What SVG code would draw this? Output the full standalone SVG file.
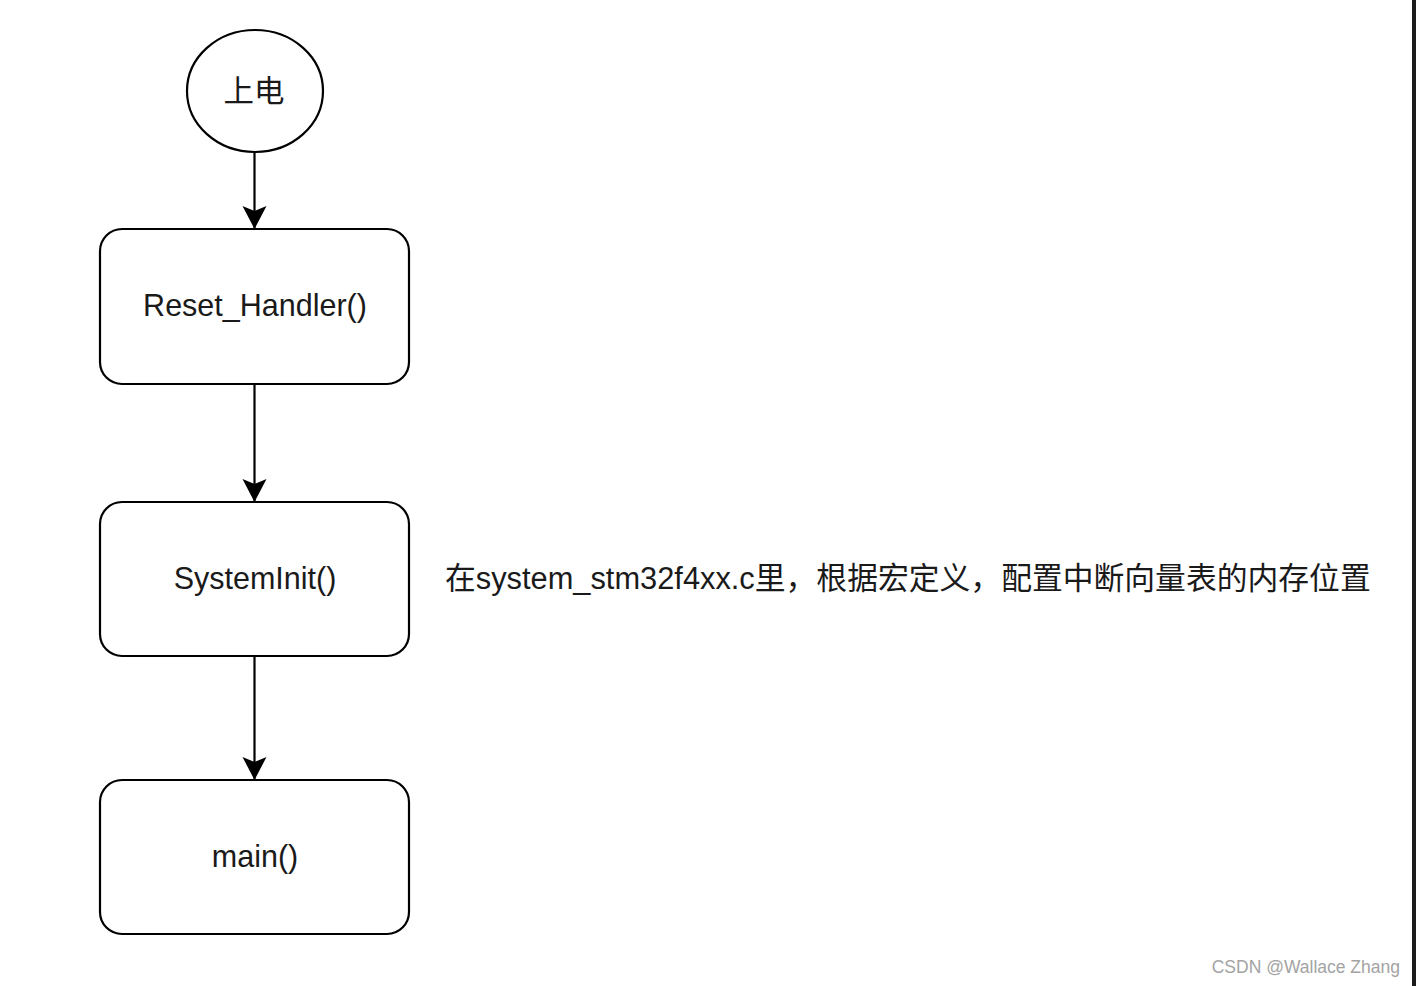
<svg xmlns="http://www.w3.org/2000/svg" width="1416" height="986" viewBox="0 0 1416 986">
  <style>
    .node { fill: #ffffff; stroke: #000000; stroke-width: 2.2; }
    .edge { fill: none; stroke: #000000; stroke-width: 2.2; }
    .label { font-family: "Liberation Sans", Arial, "Noto Sans CJK SC", sans-serif; font-size: 30.5px; fill: #1a1a1a; text-anchor: middle; }
    .note { font-family: "Liberation Sans", Arial, "Noto Sans CJK SC", sans-serif; font-size: 30.8px; fill: #1a1a1a; }
    .wm { font-family: "Liberation Sans", Arial, sans-serif; font-size: 17.5px; fill: #a3a3a3; text-anchor: end; }
  </style>
  <defs>
    <marker id="arrow" markerUnits="userSpaceOnUse" viewBox="-24 -13 26 26" markerWidth="26" markerHeight="26" refX="0" refY="0" orient="auto">
      <path d="M0,0 L-23,-12 L-18,0 L-23,12 Z" fill="#000000"/>
    </marker>
  </defs>
  <rect x="0" y="0" width="1416" height="986" fill="#ffffff"/>
  <rect x="1412" y="0" width="4" height="986" fill="#1c1c1c"/>

  <g id="connectors">
    <line class="edge" x1="254.5" y1="152" x2="254.5" y2="229" marker-end="url(#arrow)"/>
    <line class="edge" x1="254.5" y1="384" x2="254.5" y2="502" marker-end="url(#arrow)"/>
    <line class="edge" x1="254.5" y1="656" x2="254.5" y2="780" marker-end="url(#arrow)"/>
  </g>

  <g id="power-on">
    <ellipse class="node" cx="255" cy="91" rx="68" ry="61"/>
    <text class="label" x="254" y="102" font-family="'Noto Sans CJK SC', sans-serif">上电</text>
  </g>

  <g id="reset-handler">
    <rect class="node" x="100" y="229" width="309" height="155" rx="22" ry="22"/>
    <text class="label" x="255" y="316">Reset_Handler()</text>
  </g>

  <g id="system-init">
    <rect class="node" x="100" y="502" width="309" height="154" rx="22" ry="22"/>
    <text class="label" x="255" y="589">SystemInit()</text>
  </g>

  <g id="main">
    <rect class="node" x="100" y="780" width="309" height="154" rx="22" ry="22"/>
    <text class="label" x="255" y="867">main()</text>
  </g>

  <g id="note">
    <text class="note" x="445" y="589">在system_stm32f4xx.c里，根据宏定义，配置中断向量表的内存位置</text>
  </g>

  <text class="wm" x="1400" y="973">CSDN @Wallace Zhang</text>
</svg>
